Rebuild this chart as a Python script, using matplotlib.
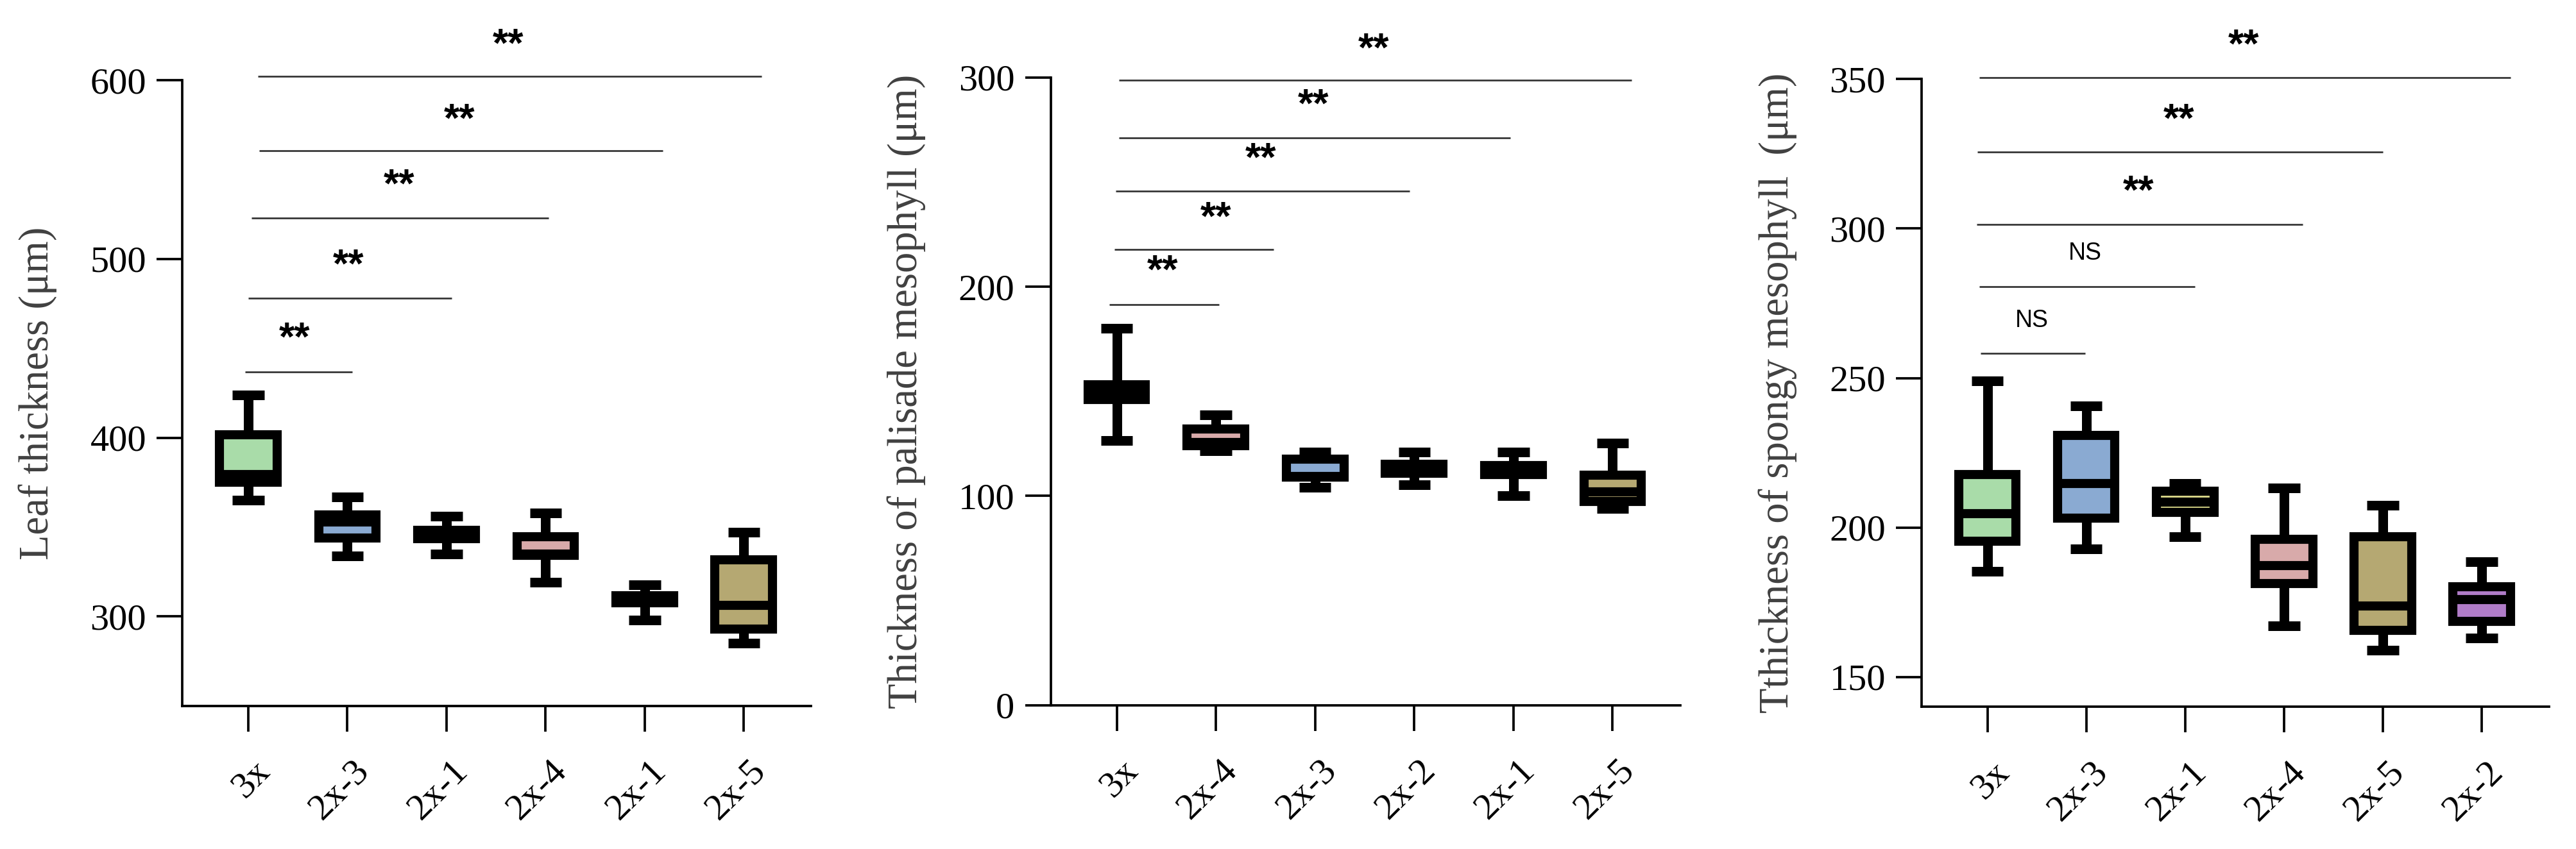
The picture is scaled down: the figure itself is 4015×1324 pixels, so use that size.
import matplotlib
matplotlib.use("Agg")
import matplotlib.pyplot as plt
import matplotlib.transforms as mtransforms

# ================= DATA =================
# box statistics (whislo, q1, median, q3, whishi)
leaf_labels = ["3x", "2x-3", "2x-1", "2x-4", "2x-1", "2x-5"]
leaf_whislo = [365, 334, 335, 319, 298, 285]
leaf_q1 = [375, 344, 343.6, 334.4, 307.7, 293]
leaf_med = [379.6, 353, 346, 335, 310, 306.4]
leaf_q3 = [401.7, 356.7, 348.4, 344.5, 311.6, 331.6]
leaf_whishi = [424, 367, 356, 358, 317.6, 347]

pal_labels = ["3x", "2x-4", "2x-3", "2x-2", "2x-1", "2x-5"]
pal_whislo = [126.6, 121.5, 104, 105.4, 100, 94]
pal_q1 = [146, 124, 109, 110.8, 110.3, 97.4]
pal_med = [149, 125.5, 109.3, 113, 112.5, 102]
pal_q3 = [153, 132, 117.5, 115.2, 114.6, 109.8]
pal_whishi = [180.2, 138.7, 121, 121, 121, 125.3]

spo_labels = ["3x", "2x-3", "2x-1", "2x-4", "2x-5", "2x-2"]
spo_whislo = [185.4, 192.8, 197, 167.2, 159, 163]
spo_q1 = [195.4, 203.1, 205, 181.3, 165.6, 168.6]
spo_med = [204.7, 214.8, 208.5, 187.3, 173.7, 175.8]
spo_q3 = [217.8, 230.7, 212.1, 196, 196.9, 180.1]
spo_whishi = [249, 240.6, 214.8, 213.3, 207.4, 188.6]

# fill colour per genotype
geno_colors = {
    "3x": "#a9dca9",
    "2x-3": "#8aaad2",
    "2x-1": "#dcd98a",
    "2x-4": "#d8aaaa",
    "2x-2": "#b07cc8",
    "2x-5": "#b5a872",
}
leaf_colors = ["#a9dca9", "#8aaad2", "#dcd98a", "#d8aaaa", "#b07cc8", "#b5a872"]

# significance brackets: start, end, height, text, text x, text y
leaf_sig_x1 = [-0.03, 0.0, 0.03, 0.11, 0.10]
leaf_sig_x2 = [1.05, 2.05, 3.03, 4.18, 5.18]
leaf_sig_y = [436.9, 478.2, 522.8, 560.5, 602.1]
leaf_sig_txt = ["**", "**", "**", "**", "**"]
leaf_sig_tx = [0.47, 1.01, 1.52, 2.13, 2.62]
leaf_sig_ty = [455.3, 496.0, 540.9, 577.4, 619.6]

pal_sig_x1 = [-0.075, -0.02, -0.01, 0.02, 0.02]
pal_sig_x2 = [1.03, 1.58, 2.95, 3.97, 5.19]
pal_sig_y = [191.5, 217.7, 245.6, 271.0, 298.7]
pal_sig_txt = ["**", "**", "**", "**", "**"]
pal_sig_tx = [0.46, 1.00, 1.45, 1.98, 2.59]
pal_sig_ty = [207.1, 232.4, 260.7, 286.5, 313.2]

spo_sig_x1 = [-0.07, -0.08, -0.11, -0.10, -0.08]
spo_sig_x2 = [0.99, 2.10, 3.19, 4.00, 5.29]
spo_sig_y = [258.2, 280.6, 301.3, 325.7, 350.4]
spo_sig_txt = ["NS", "NS", "**", "**", "**"]
spo_sig_tx = [0.45, 0.99, 1.53, 1.94, 2.59]
spo_sig_ty = [269.2, 291.8, 312.1, 336.2, 361.0]

plt.rcParams["font.family"] = ["Liberation Serif", "DejaVu Serif"]

W, H, DPI = 4015, 1324, 300
fig = plt.figure(figsize=(W / DPI, H / DPI), dpi=DPI)

panels = [
    dict(rect=[0.0708, 0.1686, 0.2441, 0.7368],
         labels=leaf_labels, lo=leaf_whislo, q1=leaf_q1, med=leaf_med,
         q3=leaf_q3, hi=leaf_whishi, colors=leaf_colors,
         ylim=(250, 600), yticks=[300, 400, 500, 600],
         ylabel="Leaf thickness (\u03bcm)",
         sx1=leaf_sig_x1, sx2=leaf_sig_x2, sy=leaf_sig_y,
         st=leaf_sig_txt, stx=leaf_sig_tx, sty=leaf_sig_ty),
    dict(rect=[0.4079, 0.1694, 0.2443, 0.7394],
         labels=pal_labels, lo=pal_whislo, q1=pal_q1, med=pal_med,
         q3=pal_q3, hi=pal_whishi,
         colors=[geno_colors[k] for k in pal_labels],
         ylim=(0, 300), yticks=[0, 100, 200, 300],
         ylabel="Thickness of palisade mesophyll (\u03bcm)",
         sx1=pal_sig_x1, sx2=pal_sig_x2, sy=pal_sig_y,
         st=pal_sig_txt, stx=pal_sig_tx, sty=pal_sig_ty),
    dict(rect=[0.7460, 0.1674, 0.2435, 0.7395],
         labels=spo_labels, lo=spo_whislo, q1=spo_q1, med=spo_med,
         q3=spo_q3, hi=spo_whishi,
         colors=[geno_colors[k] for k in spo_labels],
         ylim=(140, 350), yticks=[150, 200, 250, 300, 350],
         ylabel="Tthickness of spongy mesophyll  (\u03bcm)",
         sx1=spo_sig_x1, sx2=spo_sig_x2, sy=spo_sig_y,
         st=spo_sig_txt, stx=spo_sig_tx, sty=spo_sig_ty),
]

for p in panels:
    ax = fig.add_axes(p["rect"])

    stats = []
    for lab, lo, q1, med, q3, hi in zip(p["labels"], p["lo"], p["q1"],
                                         p["med"], p["q3"], p["hi"]):
        stats.append(dict(label=lab, whislo=lo, q1=q1, med=med, q3=q3,
                          whishi=hi, fliers=[]))

    bp = ax.bxp(stats, positions=range(len(stats)), widths=0.58,
                capwidths=0.32, patch_artist=True, showfliers=False,
                boxprops=dict(linewidth=3.4, edgecolor="black",
                              joinstyle="miter"),
                whiskerprops=dict(linewidth=3.6, color="black",
                                  solid_capstyle="butt"),
                capprops=dict(linewidth=3.6, color="black",
                              solid_capstyle="butt"),
                medianprops=dict(linewidth=3.4, color="black",
                                 solid_capstyle="butt"))
    for box, c in zip(bp["boxes"], p["colors"]):
        box.set_facecolor(c)

    # significance lines
    for x1, x2, y, t, tx, ty in zip(p["sx1"], p["sx2"], p["sy"],
                                     p["st"], p["stx"], p["sty"]):
        ax.plot([x1, x2], [y, y], color="#333333", lw=0.65,
                clip_on=False, solid_capstyle="butt")
        if t == "NS":
            ax.text(tx, ty, t, ha="center", va="center", fontsize=9,
                    family="Liberation Sans", clip_on=False)
        else:
            ax.text(tx, ty, t, ha="center", va="center", fontsize=15,
                    family="Liberation Sans", fontweight="bold",
                    clip_on=False)

    ax.set_xlim(-0.665, 5.68)
    ax.set_ylim(*p["ylim"])
    ax.set_yticks(p["yticks"])

    for s in ["top", "right"]:
        ax.spines[s].set_visible(False)
    for s in ["left", "bottom"]:
        ax.spines[s].set_linewidth(0.9)

    ax.tick_params(axis="both", direction="out", length=9.5, width=0.9,
                   labelsize=14, colors="black")
    ax.tick_params(axis="y", pad=4)
    ax.tick_params(axis="x", pad=13)

    ax.set_xticks(range(len(p["labels"])))
    ax.set_xticklabels(p["labels"], rotation=45, ha="right", va="center",
                       rotation_mode="anchor")
    offset = mtransforms.ScaledTranslation(6 / 72, 0, fig.dpi_scale_trans)
    for lab in ax.get_xticklabels():
        lab.set_transform(lab.get_transform() + offset)

    ax.set_ylabel(p["ylabel"], fontsize=15.5, color="#404040")
    ax.yaxis.set_label_coords(-0.199, 0.5)

fig.savefig("out.png", dpi=DPI)
